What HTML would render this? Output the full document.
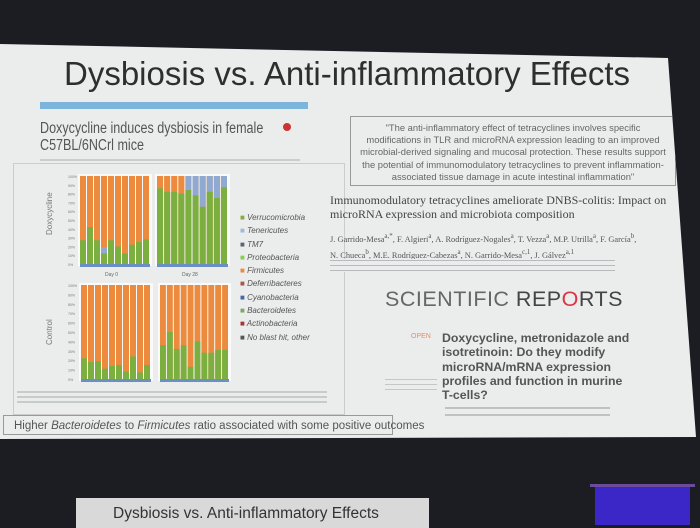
<!DOCTYPE html>
<html><head><meta charset="utf-8"><style>
*{margin:0;padding:0}
body{width:700px;height:525px;background:#1b1d23;overflow:hidden;position:relative;font-family:"Liberation Sans",sans-serif}
#slide{position:absolute;left:0;top:0;width:700px;height:525px;background:#ebecec;clip-path:polygon(0 44px,668px 58px,696px 437px,0 439px)}
.a{position:absolute;white-space:nowrap}
</style></head><body>
<div id="slide">
<div class="a" style="left:64px;top:55px;font-size:33px;color:#2e2e2e">Dysbiosis vs. Anti-inflammatory Effects</div>
<div class="a" style="left:40px;top:102px;width:268px;height:7px;background:#7cb4dc"></div>
<div class="a" style="left:40px;top:120px;font-size:15.5px;color:#555;line-height:17px;transform:scaleX(0.81);transform-origin:0 0">Doxycycline induces dysbiosis in female<br>C57BL/6NCrl mice</div>
<div class="a" style="left:283px;top:123px;width:8px;height:8px;border-radius:50%;background:#c33"></div>
<div class="a" style="left:40px;top:159px;width:260px;height:2px;background:#ccc"></div>
<div class="a" style="left:13px;top:163px;width:330px;height:250px;border:1px solid #ccc"></div>
<svg class="a" id="ch" style="left:0;top:0" width="700" height="525"></svg>
<div class="a" style="left:240px;top:211px;font-size:8px;color:#555;line-height:13.3px;font-style:italic">
<span style="color:#8a4">■</span> Verrucomicrobia<br><span style="color:#9bd">■</span> Tenericutes<br><span style="color:#567">■</span> TM7<br><span style="color:#8c5">■</span> Proteobacteria<br><span style="color:#e84">■</span> Firmicutes<br><span style="color:#a55">■</span> Deferribacteres<br><span style="color:#46a">■</span> Cyanobacteria<br><span style="color:#7a6">■</span> Bacteroidetes<br><span style="color:#a33">■</span> Actinobacteria<br><span style="color:#555">■</span> No blast hit, other</div>
<div class="a" style="left:45px;top:235px;font-size:8px;color:#777;transform:rotate(-90deg);transform-origin:0 0">Doxycycline</div>
<div class="a" style="left:45px;top:345px;font-size:8px;color:#777;transform:rotate(-90deg);transform-origin:0 0">Control</div>
<div class="a" style="left:105px;top:272px;font-size:5px;color:#666">Day 0</div>
<div class="a" style="left:182px;top:272px;font-size:5px;color:#666">Day 28</div>
<div class="a" style="left:17px;top:389px;width:310px;height:16px;background:repeating-linear-gradient(#ebecec 0 2px,#c8cbcc 2px 4px,#ebecec 4px 5px)"></div>
<div class="a" style="left:3px;top:415px;width:390px;height:20px;border:1px solid #999;font-size:11.5px;color:#555;line-height:20px;padding-left:10px;box-sizing:border-box">Higher <i>Bacteroidetes</i> to <i>Firmicutes</i> ratio associated with some positive outcomes</div>
<div class="a" style="left:350px;top:116px;width:326px;height:70px;border:1px solid #999;font-size:9.4px;color:#666;text-align:center;line-height:12.2px;padding-top:5px;box-sizing:border-box">"The anti-inflammatory effect of tetracyclines involves specific<br>modifications in TLR and microRNA expression leading to an improved<br>microbial-derived signaling and mucosal protection. These results support<br>the potential of immunomodulatory tetracyclines to prevent inflammation-<br>associated tissue damage in acute intestinal inflammation"</div>
<div class="a" style="left:330px;top:193px;font-family:'Liberation Serif',serif;font-size:12px;color:#444;line-height:14px">Immunomodulatory tetracyclines ameliorate DNBS-colitis: Impact on<br>microRNA expression and microbiota composition</div>
<div class="a" style="left:330px;top:230px;font-family:'Liberation Serif',serif;font-size:8.4px;color:#555;line-height:13px">J. Garrido-Mesa<sup>a,*</sup>, F. Algieri<sup>a</sup>, A. Rodríguez-Nogales<sup>a</sup>, T. Vezza<sup>a</sup>, M.P. Utrilla<sup>a</sup>, F. García<sup>b</sup>,<br>N. Chueca<sup>b</sup>, M.E. Rodríguez-Cabezas<sup>a</sup>, N. Garrido-Mesa<sup>c,1</sup>, J. Gálvez<sup>a,1</sup></div>
<div class="a" style="left:330px;top:259px;width:285px;height:13px;background:repeating-linear-gradient(#ebecec 0 1px,#b8bbbd 1px 2px,#ebecec 2px 5px)"></div>
<div class="a" style="left:385px;top:287px;font-size:21.5px;color:#666;letter-spacing:0.5px">SCIENTIFIC <span style="color:#444">REP<span style="color:#d34">O</span>RTS</span></div>
<div class="a" style="left:411px;top:333px;font-size:7px;color:#e86">OPEN</div>
<div class="a" style="left:442px;top:331px;font-size:12.3px;color:#555;line-height:14.3px;font-weight:bold">Doxycycline, metronidazole and<br>isotretinoin: Do they modify<br>microRNA/mRNA expression<br>profiles and function in murine<br>T-cells?</div>
<div class="a" style="left:385px;top:378px;width:52px;height:16px;background:repeating-linear-gradient(#ebecec 0 1px,#c4c6c7 1px 2px,#ebecec 2px 5px)"></div>
<div class="a" style="left:445px;top:406px;width:165px;height:14px;background:repeating-linear-gradient(#ebecec 0 1px,#bfc1c3 1px 3px,#ebecec 3px 7px)"></div>
</div>
<div class="a" style="left:76px;top:498px;width:353px;height:30px;background:#d9d9d9"></div>
<div class="a" style="left:113px;top:505px;font-size:15.5px;color:#333">Dysbiosis vs. Anti-inflammatory Effects</div>
<div class="a" style="left:595px;top:487px;width:95px;height:38px;background:#3b26c8"></div>
<div class="a" style="left:590px;top:484px;width:105px;height:3px;background:#6a4c9a"></div>
<script>
var s=document.getElementById('ch'),h='';
function chart(x0,x1,yt,yb,g,b){var n=10,w=(x1-x0)/n;h+='<rect x="'+(x0-2)+'" y="'+(yt-2)+'" width="'+(x1-x0+4)+'" height="'+(yb-yt+4)+'" fill="#fafafa"/>';
for(var i=0;i<n;i++){var x=x0+i*w,H=yb-yt,gy=yb-g[i]*H,by=yb-(g[i]+b[i])*H;
h+='<rect x="'+x+'" y="'+yt+'" width="'+(w-1)+'" height="'+H+'" fill="#ec8a3e"/>';
h+='<rect x="'+x+'" y="'+by+'" width="'+(w-1)+'" height="'+(gy-by)+'" fill="#8fa9d0"/>';
h+='<rect x="'+x+'" y="'+gy+'" width="'+(w-1)+'" height="'+(yb-gy)+'" fill="#7bb040"/>';}
h+='<rect x="'+x0+'" y="'+(yb)+'" width="'+(x1-x0)+'" height="3" fill="#6b8fc4"/>';}
var z=[0,0,0,0,0,0,0,0,0,0];
chart(80,150,176,264,[.27,.42,.27,.12,.27,.2,.12,.22,.25,.28],[0,0,0,.07,0,0,0,0,0,0]);
chart(157,228,176,264,[.86,.82,.82,.8,.84,.78,.65,.82,.75,.87],[0,0,0,0,.16,.22,.35,.18,.25,.13]);
chart(81,151,285,379,[.22,.18,.19,.11,.14,.15,.08,.24,.07,.15],z);
chart(160,229,285,379,[.36,.5,.32,.36,.13,.4,.28,.28,.31,.31],z);
for(var k=0;k<11;k++){h+='<text x="68" y="'+(178+k*8.8)+'" font-size="3.5" fill="#777">'+(100-k*10)+'%</text>';h+='<text x="68" y="'+(287+k*9.4)+'" font-size="3.5" fill="#777">'+(100-k*10)+'%</text>';}
s.innerHTML=h;
</script>
</body></html>
